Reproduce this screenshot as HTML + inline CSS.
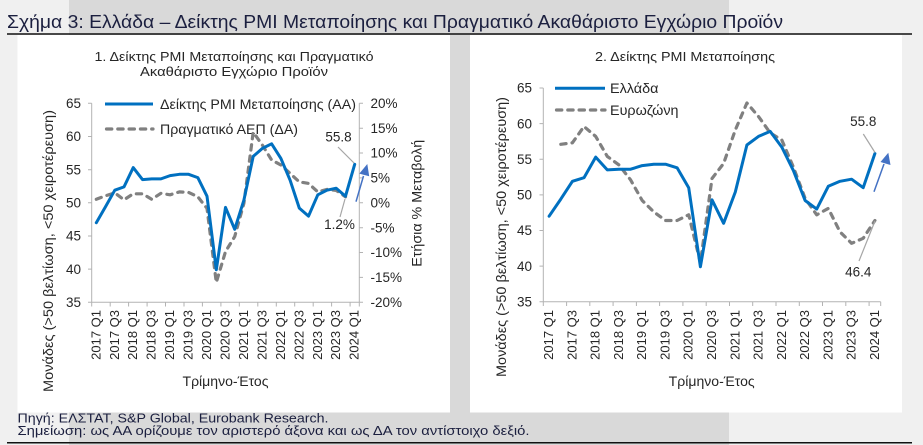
<!DOCTYPE html>
<html><head><meta charset="utf-8"><style>
html,body{margin:0;padding:0;background:#f0f0f0;}
svg{display:block;}
text{font-family:"Liberation Sans","DejaVu Sans",sans-serif;}
</style></head><body>
<svg width="923" height="445" viewBox="0 0 923 445" xmlns="http://www.w3.org/2000/svg">
<rect x="0" y="0" width="923" height="445" fill="#f0f0f0"/>
<rect x="69" y="0" width="660" height="445" fill="#d9d9d9"/>
<text x="7" y="28" font-size="18" fill="#1b1f3f" textLength="776" lengthAdjust="spacingAndGlyphs">Σχήμα 3: Ελλάδα – Δείκτης PMI Μεταποίησης και Πραγματικό Ακαθάριστο Εγχώριο Προϊόν</text>
<line x1="7" y1="34" x2="912" y2="34" stroke="#111" stroke-width="1.5"/>
<rect x="17.5" y="35" width="432.5" height="377.5" fill="#fff"/>
<rect x="470" y="35" width="432" height="377.5" fill="#fff"/>
<text x="17.5" y="422.5" font-size="12.5" fill="#1b1f3f" textLength="311" lengthAdjust="spacingAndGlyphs">Πηγή: ΕΛΣΤΑΤ, S&amp;P Global, Eurobank Research.</text>
<text x="17.5" y="435" font-size="12.5" fill="#1b1f3f" textLength="512" lengthAdjust="spacingAndGlyphs">Σημείωση: ως ΑΑ ορίζουμε τον αριστερό άξονα και ως ΔΑ τον αντίστοιχο δεξιό.</text>
<line x1="7" y1="442.7" x2="912" y2="442.7" stroke="#111" stroke-width="1.5"/>

<!-- LEFT CHART -->
<g fill="#262626">
<text x="234" y="61" font-size="13" text-anchor="middle" textLength="279" lengthAdjust="spacingAndGlyphs">1. Δείκτης PMI Μεταποίησης και Πραγματικό</text>
<text x="234" y="76" font-size="13" text-anchor="middle" textLength="188" lengthAdjust="spacingAndGlyphs">Ακαθάριστο Εγχώριο Προϊόν</text>
</g>
<g stroke="#b3b3b3" stroke-width="1" fill="none">
<line x1="91.7" y1="103.3" x2="91.7" y2="302.3"/>
<line x1="359.3" y1="103.3" x2="359.3" y2="302.3"/>
<line x1="91.7" y1="302.3" x2="359.3" y2="302.3"/>
<path d="M88 103.3H91.7M88 136.5H91.7M88 169.7H91.7M88 202.8H91.7M88 236H91.7M88 269.1H91.7M88 302.3H91.7"/>
<path d="M359.3 103.3H363M359.3 128.2H363M359.3 153H363M359.3 177.9H363M359.3 202.8H363M359.3 227.7H363M359.3 252.5H363M359.3 277.4H363M359.3 302.3H363"/>
<path d="M91.7 302.3V306.5M110.2 302.3V306.5M128.6 302.3V306.5M147.1 302.3V306.5M165.5 302.3V306.5M184 302.3V306.5M202.4 302.3V306.5M220.9 302.3V306.5M239.3 302.3V306.5M257.8 302.3V306.5M276.3 302.3V306.5M294.7 302.3V306.5M313.2 302.3V306.5M331.6 302.3V306.5M350.1 302.3V306.5M359.3 302.3V306.5"/>
</g>
<g font-size="13.5" fill="#262626" text-anchor="end">
<text x="81" y="108">65</text><text x="81" y="141.2">60</text><text x="81" y="174.4">55</text><text x="81" y="207.5">50</text><text x="81" y="240.7">45</text><text x="81" y="273.8">40</text><text x="81" y="307">35</text>
</g>
<g font-size="13.5" fill="#262626">
<text x="370.5" y="108">20%</text><text x="370.5" y="132.9">15%</text><text x="370.5" y="157.7">10%</text><text x="370.5" y="182.6">5%</text><text x="370.5" y="207.5">0%</text><text x="370.5" y="232.4">-5%</text><text x="370.5" y="257.2">-10%</text><text x="370.5" y="282.1">-15%</text><text x="370.5" y="307">-20%</text>
</g>
<g font-size="13" fill="#262626" text-anchor="end">
<text transform="translate(100.3,310) rotate(-90)">2017 Q1</text>
<text transform="translate(118.8,310) rotate(-90)">2017 Q3</text>
<text transform="translate(137.2,310) rotate(-90)">2018 Q1</text>
<text transform="translate(155.7,310) rotate(-90)">2018 Q3</text>
<text transform="translate(174.1,310) rotate(-90)">2019 Q1</text>
<text transform="translate(192.6,310) rotate(-90)">2019 Q3</text>
<text transform="translate(211,310) rotate(-90)">2020 Q1</text>
<text transform="translate(229.5,310) rotate(-90)">2020 Q3</text>
<text transform="translate(247.9,310) rotate(-90)">2021 Q1</text>
<text transform="translate(266.4,310) rotate(-90)">2021 Q3</text>
<text transform="translate(284.9,310) rotate(-90)">2022 Q1</text>
<text transform="translate(303.3,310) rotate(-90)">2022 Q3</text>
<text transform="translate(321.8,310) rotate(-90)">2023 Q1</text>
<text transform="translate(340.2,310) rotate(-90)">2023 Q3</text>
<text transform="translate(358.7,310) rotate(-90)">2024 Q1</text>
</g>
<g font-size="13.5" fill="#262626" text-anchor="middle">
<text x="225.5" y="386" textLength="86" lengthAdjust="spacingAndGlyphs">Τρίμηνο-Έτος</text>
<text transform="translate(53,251) rotate(-90)" textLength="282" lengthAdjust="spacingAndGlyphs">Μονάδες (&gt;50 βελτίωση, &lt;50 χειροτέρευση)</text>
<text transform="translate(421.5,203.3) rotate(-90)" textLength="127" lengthAdjust="spacingAndGlyphs">Ετήσια % Μεταβολή</text>
</g>
<!-- legend left -->
<line x1="105" y1="104" x2="153" y2="104" stroke="#0070c0" stroke-width="3"/>
<text x="160" y="108.8" font-size="14" fill="#262626" textLength="196" lengthAdjust="spacingAndGlyphs">Δείκτης PMI Μεταποίησης (ΑΑ)</text>
<line x1="106.5" y1="129" x2="153" y2="129" stroke="#808080" stroke-width="3.2" stroke-linecap="round" stroke-dasharray="5.3 6"/>
<text x="160" y="133.8" font-size="14" fill="#262626" textLength="138" lengthAdjust="spacingAndGlyphs">Πραγματικό ΑΕΠ (ΔΑ)</text>
<!-- GDP dashed -->
<polyline fill="none" stroke="#808080" stroke-width="3.2" stroke-linecap="round" stroke-linejoin="round" stroke-dasharray="5.3 6" points="96.3,199.3 105.5,195.8 114.8,192.9 124,199.8 133.2,193.8 142.5,193.8 151.7,199.3 160.9,193.3 170.1,194.8 179.4,191.9 188.6,192.4 197.8,196.8 207,208.3 216.3,282.4 225.5,251.6 234.7,236.6 243.9,203.3 253.2,132.2 262.4,145.1 271.6,160 280.9,165 290.1,173.4 299.3,181.9 308.5,183.4 317.8,191.9 327,189.4 336.2,190.4 345.5,196.8"/>
<!-- PMI blue -->
<polyline fill="none" stroke="#0070c0" stroke-width="3" stroke-linejoin="round" stroke-linecap="round" points="96.3,222.7 105.5,206.8 114.8,190.2 124,186.9 133.2,167.6 142.5,179.6 151.7,178.9 160.9,178.9 170.1,175.6 179.4,174.3 188.6,174.3 197.8,177.6 207,196.2 216.3,269.8 225.5,207.4 234.7,229.3 243.9,200.1 253.2,156.4 262.4,148.4 271.6,143.8 280.9,158.4 290.1,180.2 299.3,208.1 308.5,216.1 317.8,194.8 327,190.2 336.2,188.2 345.5,196.2 354.7,164.3"/>
<!-- annotations left -->
<line x1="338" y1="147" x2="354" y2="163" stroke="#a6a6a6" stroke-width="1.2"/>
<text x="338.5" y="141.5" font-size="13.5" fill="#262626" text-anchor="middle">55.8</text>
<line x1="340" y1="217" x2="345" y2="199" stroke="#a6a6a6" stroke-width="1.2"/>
<text x="339.5" y="229" font-size="13.5" fill="#262626" text-anchor="middle">1.2%</text>
<line x1="356" y1="201.7" x2="363.5" y2="176" stroke="#4472c4" stroke-width="1.5"/>
<polygon points="367.3,164 369.2,176.2 359.3,173.6" fill="#4472c4"/>

<!-- RIGHT CHART -->
<text x="685" y="61" font-size="13" fill="#262626" text-anchor="middle" textLength="180" lengthAdjust="spacingAndGlyphs">2. Δείκτης PMI Μεταποίησης</text>
<g stroke="#b3b3b3" stroke-width="1" fill="none">
<line x1="543.3" y1="88" x2="543.3" y2="301.7"/>
<line x1="543.3" y1="301.7" x2="880.7" y2="301.7"/>
<path d="M539.5 88H543.3M539.5 123.6H543.3M539.5 159.2H543.3M539.5 194.9H543.3M539.5 230.5H543.3M539.5 266.1H543.3M539.5 301.7H543.3"/>
<path d="M543.3 301.7V306M566.6 301.7V306M589.8 301.7V306M613.1 301.7V306M636.4 301.7V306M659.6 301.7V306M682.9 301.7V306M706.2 301.7V306M729.5 301.7V306M752.7 301.7V306M776 301.7V306M799.3 301.7V306M822.5 301.7V306M845.8 301.7V306M869.1 301.7V306M880.7 301.7V306"/>
</g>
<g font-size="13.5" fill="#262626" text-anchor="end">
<text x="532" y="92.7">65</text><text x="532" y="128.3">60</text><text x="532" y="163.9">55</text><text x="532" y="199.6">50</text><text x="532" y="235.2">45</text><text x="532" y="270.8">40</text><text x="532" y="306.4">35</text>
</g>
<g font-size="13" fill="#262626" text-anchor="end">
<text transform="translate(553.1,310) rotate(-90)">2017 Q1</text>
<text transform="translate(576.4,310) rotate(-90)">2017 Q3</text>
<text transform="translate(599.7,310) rotate(-90)">2018 Q1</text>
<text transform="translate(622.9,310) rotate(-90)">2018 Q3</text>
<text transform="translate(646.2,310) rotate(-90)">2019 Q1</text>
<text transform="translate(669.5,310) rotate(-90)">2019 Q3</text>
<text transform="translate(692.7,310) rotate(-90)">2020 Q1</text>
<text transform="translate(716,310) rotate(-90)">2020 Q3</text>
<text transform="translate(739.3,310) rotate(-90)">2021 Q1</text>
<text transform="translate(762.5,310) rotate(-90)">2021 Q3</text>
<text transform="translate(785.8,310) rotate(-90)">2022 Q1</text>
<text transform="translate(809.1,310) rotate(-90)">2022 Q3</text>
<text transform="translate(832.3,310) rotate(-90)">2023 Q1</text>
<text transform="translate(855.6,310) rotate(-90)">2023 Q3</text>
<text transform="translate(878.9,310) rotate(-90)">2024 Q1</text>
</g>
<g font-size="13.5" fill="#262626" text-anchor="middle">
<text x="711.7" y="386" textLength="86" lengthAdjust="spacingAndGlyphs">Τρίμηνο-Έτος</text>
<text transform="translate(506,237) rotate(-90)" textLength="280" lengthAdjust="spacingAndGlyphs">Μονάδες (&gt;50 βελτίωση, &lt;50 χειροτέρευση)</text>
</g>
<line x1="555" y1="88.3" x2="605" y2="88.3" stroke="#0070c0" stroke-width="3"/>
<text x="610" y="93.2" font-size="14" fill="#262626" textLength="48.5" lengthAdjust="spacingAndGlyphs">Ελλάδα</text>
<line x1="556.5" y1="110" x2="605" y2="110" stroke="#808080" stroke-width="3.2" stroke-linecap="round" stroke-dasharray="5.3 6"/>
<text x="610" y="114.9" font-size="14" fill="#262626" textLength="68.5" lengthAdjust="spacingAndGlyphs">Ευρωζώνη</text>
<!-- Eurozone dashed -->
<polyline fill="none" stroke="#808080" stroke-width="3.2" stroke-linecap="round" stroke-linejoin="round" stroke-dasharray="5.3 6" points="560.8,144.3 572.4,142.8 584,126.5 595.7,136.4 607.3,156.4 618.9,164.9 630.6,179.9 642.2,200.5 653.8,211.9 665.5,220.5 677.1,220.5 688.7,214.8 700.4,262.5 712,178.5 723.6,163.5 735.3,130 746.9,103 758.5,116.5 770.2,132.9 781.8,140 793.4,167.1 805.1,198.4 816.7,214.8 828.3,208.4 840,231.9 851.6,243.3 863.2,238.3 874.9,220.5"/>
<!-- Greece blue -->
<polyline fill="none" stroke="#0070c0" stroke-width="3" stroke-linejoin="round" stroke-linecap="round" points="549.1,216.2 560.8,199.1 572.4,181.3 584,177.7 595.7,157.1 607.3,169.9 618.9,169.2 630.6,169.2 642.2,165.6 653.8,164.2 665.5,164.2 677.1,167.8 688.7,187.7 700.4,266.8 712,199.8 723.6,223.3 735.3,192 746.9,145 758.5,136.4 770.2,131.4 781.8,147.1 793.4,170.6 805.1,200.5 816.7,209.1 828.3,186.3 840,181.3 851.6,179.2 863.2,187.7 874.9,153.5"/>
<line x1="863.3" y1="134" x2="875" y2="152.5" stroke="#a6a6a6" stroke-width="1.2"/>
<text x="863.3" y="125.8" font-size="13.5" fill="#262626" text-anchor="middle">55.8</text>
<line x1="859" y1="261" x2="875" y2="221" stroke="#a6a6a6" stroke-width="1.2"/>
<text x="858.3" y="276.5" font-size="13.5" fill="#262626" text-anchor="middle">46.4</text>
<line x1="874" y1="191.7" x2="884" y2="164" stroke="#4472c4" stroke-width="1.5"/>
<polygon points="888.3,152.7 890.5,165 880.5,162" fill="#4472c4"/>
</svg>
</body></html>
